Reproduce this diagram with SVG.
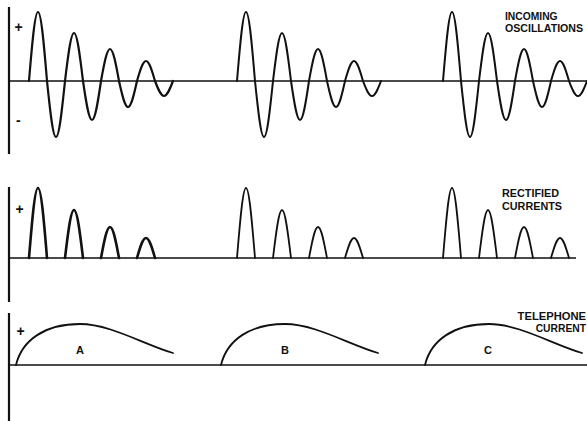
<svg xmlns="http://www.w3.org/2000/svg" xmlns:xlink="http://www.w3.org/1999/xlink" width="587" height="421" viewBox="0 0 587 421">
<style>
.ax{stroke:#111;stroke-width:2.2;fill:none}
.base{stroke:#111;stroke-width:1.4;fill:none}
.w{stroke:#111;stroke-width:2;fill:none;stroke-linecap:round;stroke-linejoin:round}
.lbl{font-family:"Liberation Sans",Arial,sans-serif;font-weight:bold;fill:#111}
</style>
<defs>
<path id="osc" d="M0,0 c3,-36 5.8,-69 9,-69 c3.2,0 6,33 9,69 c3,29 5.8,56 9,56 c3.2,0 6,-27 9,-56 c3,-25 5.8,-48 9,-48 c3.2,0 6,23 9,48 c3,20.5 5.8,39 9,39 c3.2,0 6,-18.5 9,-39 c3,-16.8 5.8,-32 9,-32 c3.2,0 6,15.2 9,32 c3,13.6 5.8,26 9,26 c3.2,0 6,-12.4 9,-26 c3,-10.5 5.8,-20 9,-20 c3.2,0 6,9.5 9,20 c3,7.9 5.8,15 9,15 c3.2,0 6,-7.1 9,-15"/>
<path id="rect" d="M0,0 c3,-36.7 5.8,-70 9,-70 c3.2,0 6,33.3 9,70 m18,0 c3,-25.2 5.8,-48 9,-48 c3.2,0 6,22.8 9,48 m18,0 c3,-16.3 5.8,-31 9,-31 c3.2,0 6,14.7 9,31 m18,0 c3,-10.5 5.8,-20 9,-20 c3.2,0 6,9.5 9,20"/>
<path id="tel" d="M0,0 c6,-25 29,-41 64,-41 c30,0 65,21 93,29"/>
</defs>
<rect width="587" height="421" fill="#fff"/>
<g id="axes">
<path class="ax" d="M9,7 V154 M9,187 V302 M9,313 V421"/>
<path class="base" d="M9,81 H587 M9,258 H576 M9,365 H587"/>
</g>
<g id="signs" class="lbl">
<text x="14.5" y="32" font-size="14">+</text>
<text x="16" y="124.5" font-size="14">-</text>
<text x="15.5" y="214" font-size="14">+</text>
<text x="16.5" y="336" font-size="14">+</text>
</g>
<g id="incoming">
<use xlink:href="#osc" x="29" y="81" class="w" style="stroke-width:2.2"/>
<use xlink:href="#osc" x="237" y="81" class="w"/>
<use xlink:href="#osc" x="443" y="81" class="w"/>
<text class="lbl" x="505" y="19.5" font-size="10.3">INCOMING</text>
<text class="lbl" x="505" y="31.5" font-size="10.6">OSCILLATIONS</text>
</g>
<g id="rectified">
<use xlink:href="#rect" x="29" y="258" class="w" style="stroke-width:2.6"/>
<use xlink:href="#rect" x="237" y="258" class="w" style="stroke-width:1.8"/>
<use xlink:href="#rect" x="443" y="258" class="w" style="stroke-width:1.8"/>
<text class="lbl" x="502" y="197" font-size="10.8">RECTIFIED</text>
<text class="lbl" x="502" y="210" font-size="10.8">CURRENTS</text>
</g>
<g id="telephone">
<use xlink:href="#tel" x="16" y="365" class="w" style="stroke-width:1.8"/>
<use xlink:href="#tel" x="221" y="365" class="w" style="stroke-width:1.8"/>
<use xlink:href="#tel" x="425" y="365" class="w" style="stroke-width:1.8"/>
<text class="lbl" x="80" y="354" font-size="11" text-anchor="middle">A</text>
<text class="lbl" x="285" y="354" font-size="11" text-anchor="middle">B</text>
<text class="lbl" x="488" y="354" font-size="11" text-anchor="middle">C</text>
<text class="lbl" x="586" y="320" font-size="11.2" text-anchor="end">TELEPHONE</text>
<text class="lbl" x="586" y="332" font-size="10.3" text-anchor="end">CURRENT</text>
</g>
</svg>
